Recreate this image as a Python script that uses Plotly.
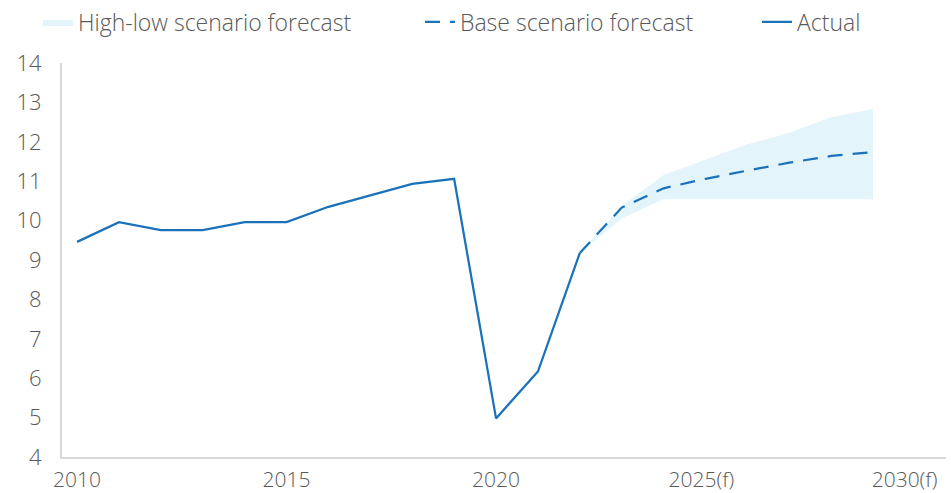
import plotly.graph_objects as go

actual_years = [2010, 2011, 2012, 2013, 2014, 2015, 2016, 2017, 2018, 2019, 2020, 2021, 2022]
actual_vals = [9.46, 9.96, 9.76, 9.76, 9.96, 9.96, 10.35, 10.64, 10.93, 11.06, 4.98, 6.17, 9.18]

fc_years = [2022, 2023, 2024, 2025, 2026, 2027, 2028, 2029]
base_vals = [9.18, 10.33, 10.82, 11.06, 11.27, 11.47, 11.64, 11.74]
high_vals = [9.18, 10.38, 11.16, 11.55, 11.94, 12.23, 12.62, 12.83]
low_vals = [9.18, 10.06, 10.54, 10.54, 10.54, 10.54, 10.54, 10.54]

tick_years = [2010, 2015, 2020, 2025, 2030]
tick_labels = ["2010", "2015", "2020", "2025(f)", "2030(f)"]
y_ticks = list(range(4, 15))

BLUE = "#1b72bb"
BAND = "#e3f4fb"
TEXT = "#595959"
AXIS = "#d9d9d9"
FONT = dict(family="Open Sans", size=22, color=TEXT, weight=300)
XFONT = dict(family="Open Sans", size=21, color=TEXT, weight=300)
LEG_FONT = dict(family="Open Sans", size=23, color=TEXT, weight=300)

L, R, T, B = 62, 5, 63, 36
PW = 951 - L - R
PH = 493 - T - B


def lx(px):
    return (px - L) / PW


def ly(py):
    return 1 + (T - py) / PH


# forecast labels sit slightly left of their year in the reference
label_pos = [y - (0.1 if "(f)" in t else 0.0) - (0.15 if y == 2030 else 0.0)
             for y, t in zip(tick_years, tick_labels)]

fig = go.Figure()
fig.add_trace(go.Scatter(x=fc_years, y=low_vals, mode="lines", line=dict(width=0, color=BAND),
                         showlegend=False, hoverinfo="skip"))
fig.add_trace(go.Scatter(x=fc_years, y=high_vals, mode="lines", line=dict(width=0, color=BAND),
                         fill="tonexty", fillcolor=BAND, name="High-low scenario forecast",
                         legend="legend"))
fig.add_trace(go.Scatter(x=fc_years, y=base_vals, mode="lines",
                         line=dict(color=BLUE, width=2.25, dash="15px,10px"),
                         name="Base scenario forecast", legend="legend2"))
fig.add_trace(go.Scatter(x=actual_years, y=actual_vals, mode="lines",
                         line=dict(color=BLUE, width=2.25), name="Actual", legend="legend3"))

leg_common = dict(orientation="h", yanchor="middle", xanchor="left", font=LEG_FONT,
                  bgcolor="rgba(0,0,0,0)", borderwidth=0)
fig.update_layout(
    width=951, height=493,
    margin=dict(l=L, r=R, t=T, b=B, autoexpand=False),
    paper_bgcolor="white", plot_bgcolor="white",
    font=FONT,
    legend=dict(x=lx(78 - 40), y=ly(22), **leg_common),
    legend2=dict(x=lx(460 - 40), y=ly(22), **leg_common),
    legend3=dict(x=lx(797 - 40), y=ly(22), **leg_common),
    xaxis=dict(range=[2009.64, 2030.74], tickvals=label_pos, ticktext=tick_labels,
               tickfont=XFONT,
               showgrid=False, zeroline=False, showline=True, linecolor=AXIS, linewidth=2,
               ticks="", ticklabelstandoff=3, automargin=False),
    yaxis=dict(range=[4, 14], tickvals=y_ticks, showgrid=False, zeroline=False,
               showline=True, linecolor=AXIS, linewidth=2, ticks="", ticklabelstandoff=14,
               automargin=False),
)

fig.write_html("out.html")
